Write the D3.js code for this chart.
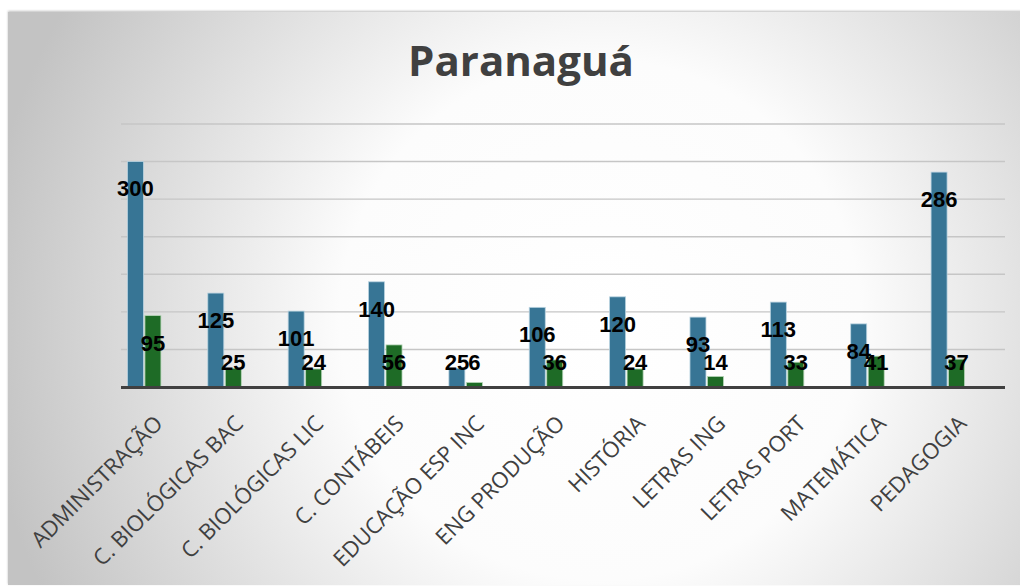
<!DOCTYPE html>
<html>
<head>
<meta charset="utf-8">
<script src="https://cdn.jsdelivr.net/npm/d3@7"></script>
<style>
  html, body { margin: 0; padding: 0; background: #ffffff; }
  svg { display: block; }
</style>
</head>
<body>
<svg id="chart" width="1020" height="586"></svg>
<script>
// Courses offered at the Paranaguá campus
const categories = [
  "ADMINISTRAÇÃO", "C. BIOLÓGICAS BAC", "C. BIOLÓGICAS LIC", "C. CONTÁBEIS",
  "EDUCAÇÃO ESP INC", "ENG PRODUÇÃO", "HISTÓRIA", "LETRAS ING",
  "LETRAS PORT", "MATEMÁTICA", "PEDAGOGIA"
];
// First series (blue) and second series (green)
const seriesA = [300, 125, 101, 140, 25, 106, 120, 93, 113, 84, 286];
const seriesB = [95, 25, 24, 56, 6, 36, 24, 14, 33, 41, 37];
const yTicks = [50, 100, 150, 200, 250, 300, 350];
const title = "Paranaguá";

const svg = d3.select("#chart");

// Panel background with a soft radial sheen
const defs = svg.append("defs");
const grad = defs.append("radialGradient")
  .attr("id", "bg").attr("gradientUnits", "userSpaceOnUse")
  .attr("cx", 600).attr("cy", 320).attr("r", 620);
grad.append("stop").attr("offset", "0").attr("stop-color", "#ffffff");
grad.append("stop").attr("offset", "0.42").attr("stop-color", "#fcfcfc");
grad.append("stop").attr("offset", "1").attr("stop-color", "#c3c3c3");

const shadow = defs.append("filter").attr("id", "shadow")
  .attr("x", "-5%").attr("y", "-5%").attr("width", "110%").attr("height", "110%");
shadow.append("feDropShadow").attr("dx", 0).attr("dy", -1)
  .attr("stdDeviation", 1.2).attr("flood-color", "#000").attr("flood-opacity", 0.25);

svg.append("rect")
  .attr("x", 8).attr("y", 12).attr("width", 1040).attr("height", 573)
  .attr("fill", "url(#bg)").attr("filter", "url(#shadow)");

// Scales
const plotLeft = 121, plotRight = 1005;
const x = d3.scaleBand().domain(categories).range([104, 988]).paddingInner(0).paddingOuter(0);
const y = d3.scaleLinear().domain([0, 350]).range([387, 124]);
const barW = 16, gap = 1.5;

// Gridlines
svg.append("g").selectAll("line").data(yTicks).join("line")
  .attr("x1", plotLeft).attr("x2", plotRight)
  .attr("y1", d => y(d)).attr("y2", d => y(d))
  .attr("stroke", "#c6c6c6").attr("stroke-width", 1.4);

// Bars
const groups = svg.append("g").selectAll("g").data(categories).join("g")
  .attr("transform", d => `translate(${x(d) + x.bandwidth() / 2},0)`);

groups.append("rect")
  .attr("x", -barW - gap / 2).attr("width", barW)
  .attr("y", (d, i) => y(seriesA[i]))
  .attr("height", (d, i) => y(0) - y(seriesA[i]))
  .attr("fill", "#377595").attr("stroke", "#b9d3e0").attr("stroke-width", 0.8);

groups.append("rect")
  .attr("x", gap / 2).attr("width", barW)
  .attr("y", (d, i) => y(seriesB[i]))
  .attr("height", (d, i) => y(0) - y(seriesB[i]))
  .attr("fill", "#1e6b26").attr("stroke", "#b6d6b8").attr("stroke-width", 0.8);

// Axis baseline
svg.append("line")
  .attr("x1", plotLeft).attr("x2", plotRight)
  .attr("y1", y(0) + 0.5).attr("y2", y(0) + 0.5)
  .attr("stroke", "#404040").attr("stroke-width", 3);

// Value labels
const labelY = v => Math.min(y(v) + 27, 362);
const labelFont = "'Liberation Sans', Arial, sans-serif";
groups.append("text")
  .attr("x", -barW / 2 - gap / 2)
  .attr("y", (d, i) => labelY(seriesA[i]))
  .attr("dy", "0.36em")
  .attr("text-anchor", "middle")
  .attr("font-family", labelFont).attr("font-weight", "bold").attr("font-size", 22)
  .attr("fill", "#000")
  .text((d, i) => seriesA[i]);

groups.append("text")
  .attr("x", barW / 2 + gap / 2)
  .attr("y", (d, i) => labelY(seriesB[i]))
  .attr("dy", "0.36em")
  .attr("text-anchor", "middle")
  .attr("font-family", labelFont).attr("font-weight", "bold").attr("font-size", 22)
  .attr("fill", "#000")
  .text((d, i) => seriesB[i]);

// Category labels, rotated
const xAxis = d3.axisBottom(x).tickSize(0).tickPadding(0);
const axG = svg.append("g").attr("transform", `translate(0,${y(0)})`).call(xAxis);
axG.select(".domain").remove();
axG.selectAll("text")
  .attr("font-family", "'Open Sans', 'Liberation Sans', sans-serif")
  .attr("font-size", 22)
  .attr("fill", "#404040")
  .attr("text-anchor", "end")
  .attr("x", 0).attr("y", 0).attr("dy", 0)
  .attr("transform", "translate(20,38) rotate(-45)");

// Title
svg.append("text")
  .attr("x", 521).attr("y", 76)
  .attr("text-anchor", "middle")
  .attr("font-family", "'Open Sans', 'Liberation Sans', sans-serif")
  .attr("font-weight", 700).attr("font-size", 42)
  .attr("fill", "#404040")
  .text(title);
</script>
</body>
</html>
